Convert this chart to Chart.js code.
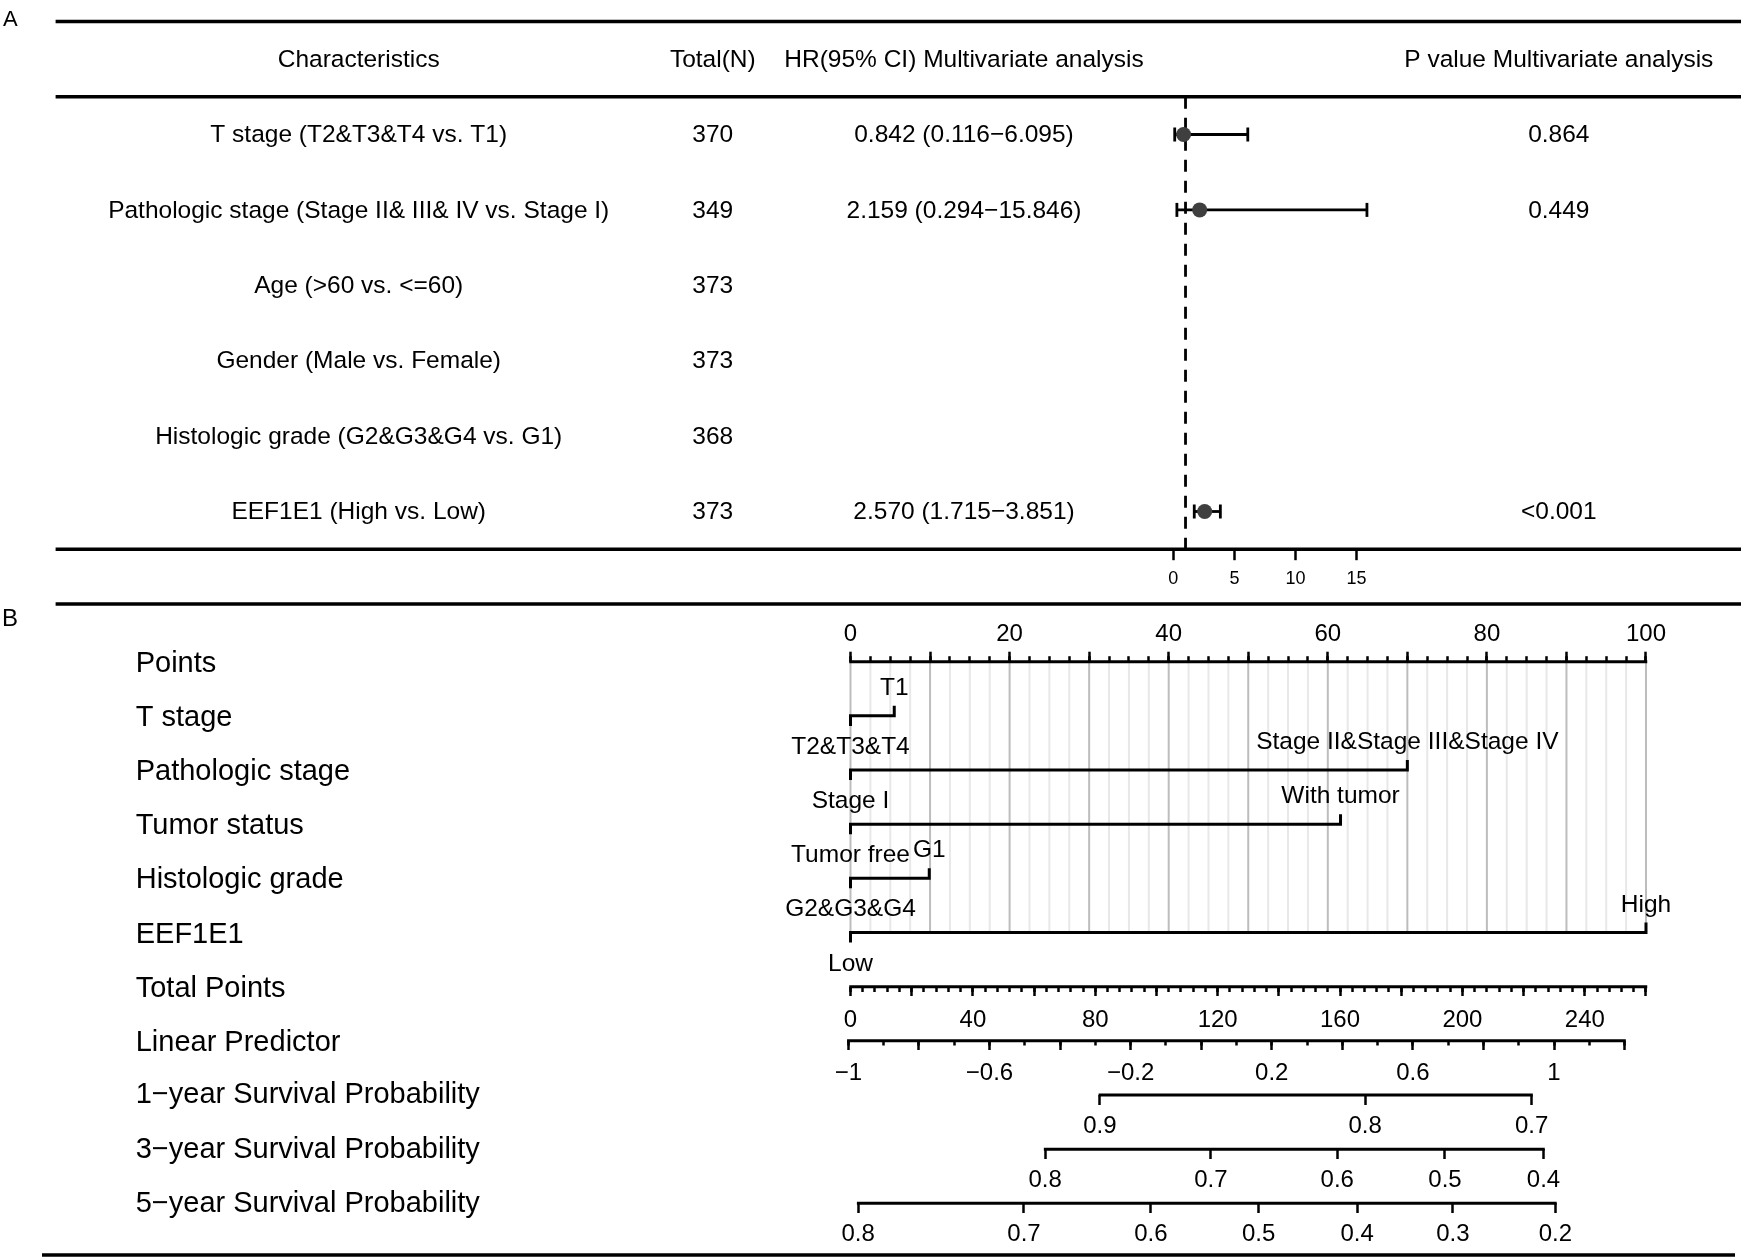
<!DOCTYPE html>
<html>
<head>
<meta charset="utf-8">
<title>Multivariate Cox analysis and nomogram</title>
<script src="https://cdn.jsdelivr.net/npm/chart.js@4.4.1/dist/chart.umd.min.js"></script>
<style>
  html, body { margin: 0; padding: 0; background: #fff; }
  #page { position: relative; width: 1744px; height: 1260px; overflow: hidden; }
  canvas { position: absolute; left: 0; }
  #forest { top: 0; width: 1744px; height: 600px; }
  #nomogram { top: 600px; width: 1744px; height: 660px; }
</style>
</head>
<body>
<div id="page">
  <canvas id="forest" width="1744" height="600"></canvas>
  <canvas id="nomogram" width="1744" height="660"></canvas>
</div>
<script>
/* ---------- panel A : multivariate Cox table ---------- */
const headers = ['Characteristics', 'Total(N)', 'HR(95% CI) Multivariate analysis', 'P value Multivariate analysis'];
const characteristics = [
  'T stage (T2&T3&T4 vs. T1)',
  'Pathologic stage (Stage II& III& IV vs. Stage I)',
  'Age (>60 vs. <=60)',
  'Gender (Male vs. Female)',
  'Histologic grade (G2&G3&G4 vs. G1)',
  'EEF1E1 (High vs. Low)'
];
const totalN      = [370, 349, 373, 373, 368, 373];
const hazardRatio = [0.842, 2.159, null, null, null, 2.570];
const ciLower     = [0.116, 0.294, null, null, null, 1.715];
const ciUpper     = [6.095, 15.846, null, null, null, 3.851];
const pValues     = ['0.864', '0.449', '', '', '', '<0.001'];
const hrTicks     = [0, 5, 10, 15];

/* ---------- panel B : nomogram ---------- */
const rowLabels = [
  'Points', 'T stage', 'Pathologic stage', 'Tumor status', 'Histologic grade', 'EEF1E1',
  'Total Points', 'Linear Predictor',
  '1\u2212year Survival Probability', '3\u2212year Survival Probability', '5\u2212year Survival Probability'
];
const lowLevels  = ['T2&T3&T4', 'Stage I', 'Tumor free', 'G2&G3&G4', 'Low'];
const lowPoints  = [0, 0, 0, 0, 0];
const highLevels = ['T1', 'Stage II&Stage III&Stage IV', 'With tumor', 'G1', 'High'];
const highPoints = [5.5, 70, 61.6, 9.9, 100];

const pointsLabels = [0, 20, 40, 60, 80, 100];
const totalLabels  = [0, 40, 80, 120, 160, 200, 240];
const lpLabels     = [-1, -0.6, -0.2, 0.2, 0.6, 1];

// survival ticks: label + total points sitting under it
const surv1Labels = ['0.9', '0.8', '0.7'];
const surv1At     = [81.5, 168.2, 222.6];
const surv3Labels = ['0.8', '0.7', '0.6', '0.5', '0.4'];
const surv3At     = [63.6, 117.8, 159.1, 194.3, 226.5];
const surv5Labels = ['0.8', '0.7', '0.6', '0.5', '0.4', '0.3', '0.2'];
const surv5At     = [2.5, 56.7, 98.2, 133.4, 165.6, 196.9, 230.4];

// axis ranges / tick steps
const pointsAxis = { from: 0,  to: 100, major: 10,  minor: 2.5 };
const totalAxis  = { from: 0,  to: 260, major: 20,  minor: 4 };
const lpAxis     = { from: -1, to: 1.2, major: 0.2, minor: 0.1 };
const tpPerPoint = 2.6;                       // 100 points = 260 total points
const lpAtTp0 = -0.9938, lpPerTp = 0.008671;  // linear predictor vs total points

/* ---------- layout ---------- */
const FONT = '"Liberation Sans", Arial, Helvetica, sans-serif';
Chart.defaults.font.family = FONT;
Chart.defaults.color = '#000';

const steps = (a, b, s) => {
  const out = [];
  for (let k = 0; a + k * s <= b + 1e-9; k++) out.push(Math.round((a + k * s) * 1e6) / 1e6);
  return out;
};

/* ===== Panel A ===== */
const HR_PX0 = 1173.3, HR_PX_PER = 12.22, HR_VIEW = [-0.5, 16.5];
const A_ROW0 = 134.5, A_ROW_H = 75.4;
const A_COLS = [358.7, 712.8, 964, 1558.8];

const hrRows = hazardRatio.map((v, i) => (v == null ? -1 : i)).filter(i => i >= 0);

const forestTable = {
  id: 'forestTable',
  afterDraw(chart) {
    const { ctx } = chart;
    const y = chart.scales.y;
    ctx.save();
    ctx.strokeStyle = '#000';
    ctx.lineWidth = 3.5;
    [-1.5, -0.5, 5.5].forEach(r => {
      const yy = y.getPixelForValue(r);
      ctx.beginPath(); ctx.moveTo(55.6, yy); ctx.lineTo(1741, yy); ctx.stroke();
    });

    ctx.fillStyle = '#000';
    ctx.textAlign = 'center';
    ctx.textBaseline = 'middle';
    ctx.font = `24.5px ${FONT}`;
    headers.forEach((h, k) => ctx.fillText(h, A_COLS[k], y.getPixelForValue(-1) + 1));
    characteristics.forEach((c, i) => {
      const yy = y.getPixelForValue(i) + 1;
      ctx.fillText(c, A_COLS[0], yy);
      ctx.fillText(String(totalN[i]), A_COLS[1], yy);
      if (hazardRatio[i] != null) {
        ctx.fillText(`${hazardRatio[i].toFixed(3)} (${ciLower[i].toFixed(3)}\u2212${ciUpper[i].toFixed(3)})`, A_COLS[2], yy);
      }
      ctx.fillText(pValues[i], A_COLS[3], yy);
    });

    ctx.textAlign = 'left';
    ctx.textBaseline = 'alphabetic';
    ctx.font = `22px ${FONT}`;
    ctx.fillText('A', 3, 26);
    ctx.restore();
  }
};

new Chart(document.getElementById('forest'), {
  type: 'scatter',
  data: {
    datasets: [
      {
        data: hrRows.map(i => ({ x: hazardRatio[i], y: i })),
        pointRadius: 7.5, pointBackgroundColor: '#3f3f3f', pointBorderWidth: 0,
        order: 0, clip: false
      },
      ...hrRows.map(i => ({
        data: [{ x: ciLower[i], y: i }, { x: ciUpper[i], y: i }],
        showLine: true, borderColor: '#000', borderWidth: 2.8,
        pointStyle: 'line', pointRotation: 90, pointRadius: 7,
        pointBorderWidth: 2.8, pointBorderColor: '#000',
        order: 1, clip: false
      })),
      {
        data: [{ x: 1, y: -0.5 }, { x: 1, y: 5.5 }],
        showLine: true, borderColor: '#000', borderWidth: 2.8, borderDash: [12, 9],
        pointRadius: 0, order: 2, clip: false
      }
    ]
  },
  options: {
    responsive: false, animation: false, devicePixelRatio: 1, events: [],
    layout: {
      padding: {
        left: HR_PX0 + HR_VIEW[0] * HR_PX_PER,
        right: 1744 - (HR_PX0 + HR_VIEW[1] * HR_PX_PER),
        top: A_ROW0 - 0.5 * A_ROW_H,
        bottom: 0
      }
    },
    scales: {
      x: {
        type: 'linear', position: 'bottom', min: HR_VIEW[0], max: HR_VIEW[1], bounds: 'data',
        afterBuildTicks: s => { s.ticks = hrTicks.map(v => ({ value: v })); },
        afterFit: s => { s.height = 600 - (A_ROW0 + 5.5 * A_ROW_H); },
        border: { display: false },
        grid: { drawOnChartArea: false, tickLength: 11, tickWidth: 2.5, tickColor: '#000' },
        ticks: { font: { size: 18 }, color: '#000', padding: 8, autoSkip: false, maxRotation: 0 }
      },
      y: { type: 'linear', min: -0.5, max: 5.5, reverse: true, display: false }
    },
    plugins: { legend: { display: false }, tooltip: { enabled: false } }
  },
  plugins: [forestTable]
});

/* ===== Panel B ===== */
const NOMO_PX0 = 850.5, NOMO_PX_PER_TP = 3.0596, VIEW_TP = [-4, 264];
const B_ROW0 = 61.7, B_ROW_H = 54.16;   // inside the nomogram canvas
const TICK_ROWS = 0.185;                 // end ticks on predictor lines

function nomoAxis(row, min, max, values, labelFn, tickLen, pad, boxHeight) {
  return {
    type: 'linear', axis: 'x', position: row === 'top' ? 'top' : { y: row },
    min, max, bounds: 'data',
    afterBuildTicks: s => { s.ticks = values.map(v => ({ value: v })); },
    afterFit: s => { if (row === 'top') s.height = boxHeight || 0; },
    border: { display: false },
    grid: { drawOnChartArea: false, tickLength: tickLen, tickWidth: 2.5, tickColor: '#000' },
    ticks: {
      display: !!labelFn, callback: labelFn || (() => ''),
      autoSkip: false, maxRotation: 0, padding: pad, font: { size: 24 }, color: '#000'
    }
  };
}

const fmtNum = v => (v < 0 ? '\u2212' : '') + String(Math.abs(v));
const hasVal = (arr, v) => arr.some(a => Math.abs(a - v) < 1e-6);
const lpMin = lpAtTp0 + lpPerTp * VIEW_TP[0];
const lpMax = lpAtTp0 + lpPerTp * VIEW_TP[1];

const axisRows = [['x', 0], ['xTp', 6], ['xLp', 7], ['xS1', 8], ['xS3', 9], ['xS5', 10]];

const nomogramDecor = {
  id: 'nomogramDecor',
  beforeDatasetsDraw(chart) {
    const { ctx, scales } = chart;
    const top = scales.y.getPixelForValue(0);
    const bot = scales.y.getPixelForValue(lowLevels.length);
    ctx.save();
    ctx.lineWidth = 2;
    scales.xMinor.ticks.forEach(t => {
      const px = scales.xMinor.getPixelForValue(t.value);
      ctx.strokeStyle = Math.abs(t.value % 10) < 1e-6 ? '#bdbdbd' : '#e8e8e8';
      ctx.beginPath(); ctx.moveTo(px, top); ctx.lineTo(px, bot); ctx.stroke();
    });
    ctx.restore();
  },
  afterDraw(chart) {
    const { ctx, scales } = chart;
    const y = scales.y, x = scales.x;
    ctx.save();
    ctx.strokeStyle = '#000';
    ctx.fillStyle = '#000';

    // axis lines, from first to last tick
    ctx.lineWidth = 3;
    axisRows.forEach(([id, row]) => {
      const s = scales[id];
      const vals = s.ticks.map(t => t.value);
      const x1 = s.getPixelForValue(Math.min(...vals)) - 1.25;
      const x2 = s.getPixelForValue(Math.max(...vals)) + 1.25;
      const yy = y.getPixelForValue(row);
      ctx.beginPath(); ctx.moveTo(x1, yy); ctx.lineTo(x2, yy); ctx.stroke();
    });

    // panel rules
    ctx.lineWidth = 3.5;
    ctx.beginPath(); ctx.moveTo(55.6, 4); ctx.lineTo(1741, 4); ctx.stroke();
    ctx.beginPath(); ctx.moveTo(42, 655); ctx.lineTo(1735, 655); ctx.stroke();

    // level labels
    ctx.font = `24.5px ${FONT}`;
    ctx.textAlign = 'center';
    ctx.textBaseline = 'alphabetic';
    lowLevels.forEach((lab, i) => {
      const yy = y.getPixelForValue(i + 1);
      ctx.fillText(lab, x.getPixelForValue(lowPoints[i]), yy + 38);
      ctx.fillText(highLevels[i], x.getPixelForValue(highPoints[i]), yy - 21);
    });

    // row names
    ctx.font = `29px ${FONT}`;
    ctx.textAlign = 'left';
    ctx.textBaseline = 'middle';
    rowLabels.forEach((lab, r) => ctx.fillText(lab, 135.7, y.getPixelForValue(r) + (r < 8 ? 2 : 0.5)));

    ctx.textBaseline = 'alphabetic';
    ctx.font = `24px ${FONT}`;
    ctx.fillText('B', 2, 26);
    ctx.restore();
  }
};

const predictorSets = lowLevels.map((_, i) => ({
  data: [
    { x: lowPoints[i], y: i + 1 + TICK_ROWS },
    { x: lowPoints[i], y: i + 1 },
    { x: highPoints[i], y: i + 1 },
    { x: highPoints[i], y: i + 1 - TICK_ROWS }
  ],
  showLine: true, borderColor: '#000', borderWidth: 3, borderJoinStyle: 'miter',
  borderCapStyle: 'butt', pointRadius: 0, clip: false
}));

new Chart(document.getElementById('nomogram'), {
  type: 'scatter',
  data: { datasets: predictorSets },
  options: {
    responsive: false, animation: false, devicePixelRatio: 1, events: [],
    layout: {
      padding: {
        left: NOMO_PX0 + VIEW_TP[0] * NOMO_PX_PER_TP,
        right: 1744 - (NOMO_PX0 + VIEW_TP[1] * NOMO_PX_PER_TP),
        top: 0,
        bottom: 660 - (B_ROW0 + 10 * B_ROW_H)
      }
    },
    scales: {
      y: { type: 'linear', min: 0, max: 10, reverse: true, display: false },
      x: Object.assign(
        nomoAxis('top', VIEW_TP[0] / tpPerPoint, VIEW_TP[1] / tpPerPoint,
          steps(pointsAxis.from, pointsAxis.to, pointsAxis.major),
          v => (hasVal(pointsLabels, v) ? String(v) : ''), 10, 3, B_ROW0),
        { weight: 1 }),
      xMinor: Object.assign(
        nomoAxis('top', VIEW_TP[0] / tpPerPoint, VIEW_TP[1] / tpPerPoint,
          steps(pointsAxis.from, pointsAxis.to, pointsAxis.minor), null, 5.5, 0, 0),
        { weight: 0 }),
      xTp: nomoAxis(6, VIEW_TP[0], VIEW_TP[1],
        steps(totalAxis.from, totalAxis.to, totalAxis.major),
        v => (hasVal(totalLabels, v) ? String(v) : ''), 9, 10),
      xTpMinor: nomoAxis(6, VIEW_TP[0], VIEW_TP[1],
        steps(totalAxis.from, totalAxis.to, totalAxis.minor), null, 5, 0),
      xLp: nomoAxis(7, lpMin, lpMax,
        steps(lpAxis.from, lpAxis.to, lpAxis.major),
        v => (hasVal(lpLabels, v) ? fmtNum(v) : ''), 9, 9),
      xLpMinor: nomoAxis(7, lpMin, lpMax,
        steps(lpAxis.from, lpAxis.to, lpAxis.minor), null, 4.5, 0),
      xS1: nomoAxis(8, VIEW_TP[0], VIEW_TP[1], surv1At, (v, i) => surv1Labels[i], 10, 7),
      xS3: nomoAxis(9, VIEW_TP[0], VIEW_TP[1], surv3At, (v, i) => surv3Labels[i], 10, 7),
      xS5: nomoAxis(10, VIEW_TP[0], VIEW_TP[1], surv5At, (v, i) => surv5Labels[i], 10, 7)
    },
    plugins: { legend: { display: false }, tooltip: { enabled: false } }
  },
  plugins: [nomogramDecor]
});
</script>
</body>
</html>
